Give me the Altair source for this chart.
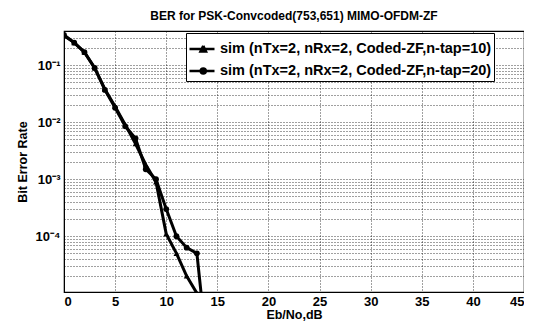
import altair as alt
import pandas as pd

# ---- data ----
series_names = [
    "sim (nTx=2, nRx=2, Coded-ZF,n-tap=10)",
    "sim (nTx=2, nRx=2, Coded-ZF,n-tap=20)",
]
ebno_a = [0, 1, 2, 3, 4, 5, 6, 7, 8, 9, 10, 11, 12, 13]
ber_a = [0.33, 0.25, 0.17, 0.09, 0.038, 0.019, 0.009, 0.0042, 0.0018,
         0.0009, 0.00011, 0.00005, 0.00002, 0.00001]
ebno_b = [0, 1, 2, 3, 4, 5, 6, 7, 8, 9, 10, 11, 12, 13, 14]
ber_b = [0.34, 0.25, 0.17, 0.09, 0.037, 0.018, 0.0085, 0.0052, 0.0015,
         0.0010, 0.0003, 0.0001, 0.000063, 0.00005, 0.000001]
x_ticks = [0, 5, 10, 15, 20, 25, 30, 35, 40, 45]
y_decades = [1e-5, 1e-4, 1e-3, 1e-2, 1e-1]
y_min, y_max = 1.05e-5, 0.4

y_grid = [d * m for d in y_decades for m in range(1, 10) if y_min <= d * m <= y_max]

df = pd.concat([
    pd.DataFrame({"ebno": ebno_a, "ber": ber_a, "series": series_names[0]}),
    pd.DataFrame({"ebno": ebno_b, "ber": ber_b, "series": series_names[1]}),
])

FONT = "Liberation Sans"

x_enc = alt.X("ebno:Q", scale=alt.Scale(domain=[0, 45], nice=False),
              axis=alt.Axis(values=x_ticks, title="Eb/No,dB", ticks=False,
                            labelPadding=3, titlePadding=0))
y_enc = alt.Y("ber:Q", scale=alt.Scale(type="log", domain=[y_min, y_max], nice=False),
              axis=alt.Axis(values=y_grid, title="Bit Error Rate", ticks=False,
                            labelPadding=4, titlePadding=6,
                            labelExpr="abs(log(datum.value)/LN10 - round(log(datum.value)/LN10)) < 0.001 && datum.value < 0.5 ? '10' + ['\u2070','\u207b\u00b9','\u207b\u00b2','\u207b\u00b3','\u207b\u2074','\u207b\u2075'][-round(log(datum.value)/LN10)] : ''"))

line = alt.Chart(df).mark_line(color="black", strokeWidth=3, clip=True).encode(
    x=x_enc, y=y_enc, detail="series:N", order="ebno:Q")

pts = alt.Chart(df).mark_point(filled=True, size=34, color="black", opacity=1, clip=True).encode(
    x=x_enc, y=y_enc,
    shape=alt.Shape("series:N", scale=alt.Scale(domain=series_names, range=["triangle-up", "circle"]),
                    legend=None))

leg_paths = [
    "M-1,0L1,0M0.1,-0.25L0.32,0.2L-0.12,0.2L0.1,-0.25",
    "M-1,0L1,0M0.3,0A0.2,0.2 0 1,1 -0.1,0A0.2,0.2 0 1,1 0.3,0",
]
legend_layer = alt.Chart(df).mark_point(filled=False, size=625, color="black", opacity=0,
                                        strokeWidth=2.5, clip=True).encode(
    x=x_enc, y=y_enc,
    shape=alt.Shape("series:N", scale=alt.Scale(domain=series_names, range=leg_paths),
                    legend=alt.Legend(title=None, orient="none", legendX=122, legendY=2,
                                      fillColor="white", strokeColor="black", padding=2,
                                      rowPadding=0, labelFont=FONT, labelFontSize=14.5,
                                      labelFontWeight="bold", labelColor="black",
                                      symbolOpacity=1, symbolFillColor="black",
                                      symbolStrokeColor="black", symbolStrokeWidth=2.5,
                                      symbolSize=625, labelOffset=4, labelLimit=400)))

chart = alt.layer(line, pts, legend_layer).resolve_scale(shape="independent").properties(
    width=460, height=261,
    padding={"left": 8, "top": 2, "right": 0, "bottom": 0},
    title=alt.Title("BER for PSK-Convcoded(753,651) MIMO-OFDM-ZF", font=FONT, fontSize=12,
                    fontWeight="bold", color="black", offset=8),
).configure_view(stroke="black", strokeWidth=1.2).configure_axis(
    labelFont=FONT, labelFontSize=13, labelFontWeight="bold", labelColor="black",
    titleFont=FONT, titleFontSize=12.5, titleFontWeight="bold", titleColor="black",
    grid=True, gridColor="black", gridDash=[1, 2], gridOpacity=0.75, gridWidth=1,
    domainColor="black",
)

chart.save("out.html", embed_options={"renderer": "svg", "actions": False})
